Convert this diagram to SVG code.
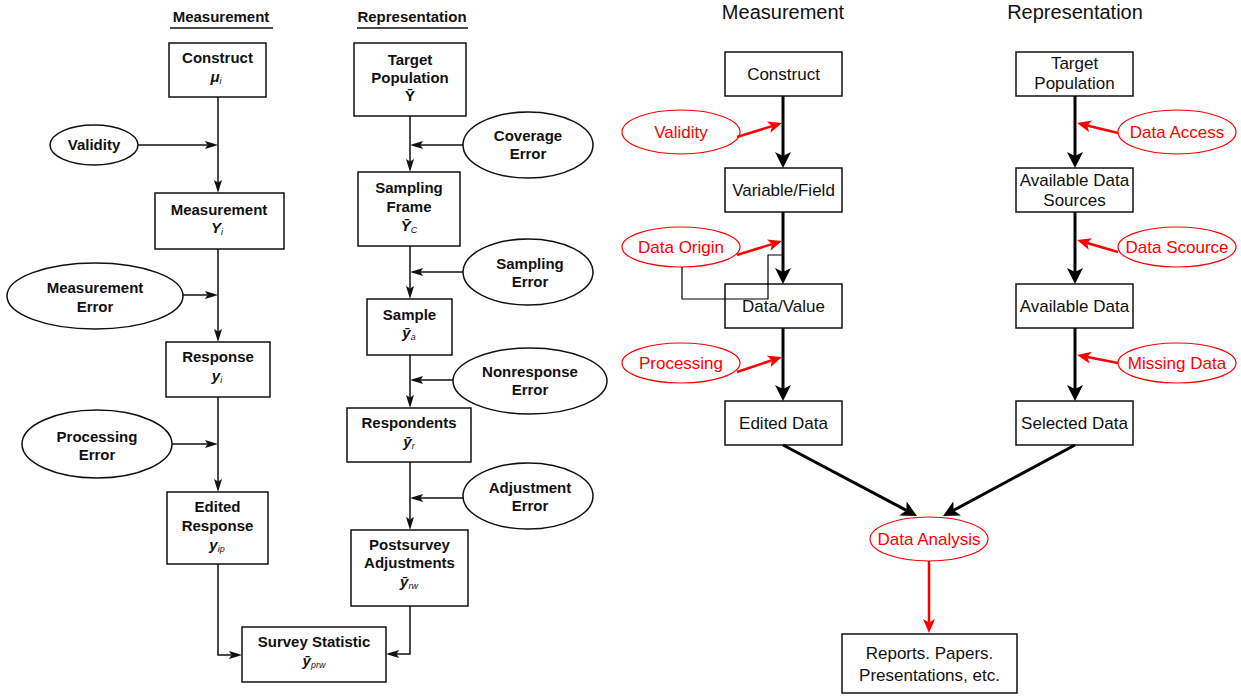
<svg xmlns="http://www.w3.org/2000/svg" width="1241" height="697" viewBox="0 0 1241 697">
<style>
.lt{font-family:"Liberation Sans",Arial,Helvetica,sans-serif;font-weight:bold;font-size:15px;fill:#111;text-anchor:middle}
.sub{font-size:9px;font-weight:normal;font-style:italic}
.mi{font-style:italic}
.lbox{fill:#fff;stroke:#111;stroke-width:1.5}
.lell{fill:#fff;stroke:#111;stroke-width:1.5}
.lline{fill:none;stroke:#111;stroke-width:1.5}
.rt{font-family:"Liberation Sans",Arial,Helvetica,sans-serif;font-size:17px;fill:#111;text-anchor:middle}
.rh{font-family:"Liberation Sans",Arial,Helvetica,sans-serif;font-size:20px;fill:#111;text-anchor:middle}
.red{fill:#ff0000}
.rbox{fill:#fff;stroke:#111;stroke-width:1.5}
.rell{fill:#fff;stroke:#ff0000;stroke-width:1.2}
.thick{fill:none;stroke:#000;stroke-width:3}
.redl{fill:none;stroke:#ff0000;stroke-width:2.5}
.thin{fill:none;stroke:#000;stroke-width:1.2}
</style>
<defs>
<marker id="la" viewBox="0 0 13 8" refX="2.5" refY="4" markerWidth="13" markerHeight="8" markerUnits="userSpaceOnUse" orient="auto">
<path d="M0,0 L13,4 L0,8 L2.5,4 z" fill="#111"/>
</marker>
<marker id="ba" viewBox="0 0 16 16" refX="4" refY="8" markerWidth="16" markerHeight="16" markerUnits="userSpaceOnUse" orient="auto">
<path d="M0,0 L16,8 L0,16 L4,8 z" fill="#000"/>
</marker>
<marker id="ra" viewBox="0 0 14 12" refX="3.5" refY="6" markerWidth="14" markerHeight="12" markerUnits="userSpaceOnUse" orient="auto">
<path d="M0,0 L14,6 L0,12 L3.5,6 z" fill="#ff0000"/>
</marker>
</defs>
<rect width="1241" height="697" fill="#fff"/>

<!-- LEFT DIAGRAM -->
<g id="left-headers">
<text class="lt" x="221" y="22">Measurement</text>
<line x1="170" y1="28" x2="273" y2="28" stroke="#111" stroke-width="1.5"/>
<text class="lt" x="412" y="22">Representation</text>
<line x1="357" y1="28" x2="468" y2="28" stroke="#111" stroke-width="1.5"/>
</g>

<g id="L-construct"><rect class="lbox" x="169" y="43" width="97" height="54"/>
<text class="lt" x="217.5" y="63">Construct</text>
<text class="lt" x="216" y="82"><tspan class="mi">μ</tspan><tspan class="sub" dy="2">i</tspan></text></g>

<g id="L-validity"><ellipse class="lell" cx="94" cy="145" rx="44" ry="20"/>
<text class="lt" x="94" y="150">Validity</text></g>

<g id="L-measurement"><rect class="lbox" x="155" y="193" width="129" height="56"/>
<text class="lt" x="219" y="215">Measurement</text>
<text class="lt" x="217" y="233"><tspan class="mi">Y</tspan><tspan class="sub" dy="2">i</tspan></text></g>

<g id="L-measurement-error"><ellipse class="lell" cx="95" cy="296" rx="88" ry="33"/>
<text class="lt" x="95" y="293">Measurement</text>
<text class="lt" x="95" y="312">Error</text></g>

<g id="L-response"><rect class="lbox" x="166" y="342" width="104" height="55"/>
<text class="lt" x="218" y="362">Response</text>
<text class="lt" x="217" y="381"><tspan class="mi">y</tspan><tspan class="sub" dy="2">i</tspan></text></g>

<g id="L-processing-error"><ellipse class="lell" cx="97" cy="444" rx="75" ry="34"/>
<text class="lt" x="97" y="442">Processing</text>
<text class="lt" x="97" y="460">Error</text></g>

<g id="L-edited-response"><rect class="lbox" x="167" y="492" width="101" height="72"/>
<text class="lt" x="217.5" y="512">Edited</text>
<text class="lt" x="217.5" y="531">Response</text>
<text class="lt" x="217" y="550"><tspan class="mi">y</tspan><tspan class="sub" dy="2">ip</tspan></text></g>

<g id="L-survey-statistic"><rect class="lbox" x="242" y="627" width="144" height="55"/>
<text class="lt" x="314" y="647">Survey Statistic</text>
<text class="lt" x="314" y="666"><tspan class="mi">ȳ</tspan><tspan class="sub" dy="2">prw</tspan></text></g>

<g id="L-target-population"><rect class="lbox" x="354" y="43" width="112" height="73"/>
<text class="lt" x="410" y="65">Target</text>
<text class="lt" x="410" y="83">Population</text>
<text class="lt" x="410" y="101">Ȳ</text></g>

<g id="L-coverage-error"><ellipse class="lell" cx="528" cy="145" rx="65" ry="33"/>
<text class="lt" x="528" y="141">Coverage</text>
<text class="lt" x="528" y="159">Error</text></g>

<g id="L-sampling-frame"><rect class="lbox" x="358" y="172" width="102" height="74"/>
<text class="lt" x="409" y="193">Sampling</text>
<text class="lt" x="409" y="212">Frame</text>
<text class="lt" x="409" y="231"><tspan class="mi">Ȳ</tspan><tspan class="sub" dy="2">C</tspan></text></g>

<g id="L-sampling-error"><ellipse class="lell" cx="528" cy="272" rx="65" ry="33"/>
<text class="lt" x="530" y="269">Sampling</text>
<text class="lt" x="530" y="287">Error</text></g>

<g id="L-sample"><rect class="lbox" x="367" y="299" width="85" height="56"/>
<text class="lt" x="409.5" y="320">Sample</text>
<text class="lt" x="409" y="338"><tspan class="mi">ȳ</tspan><tspan class="sub" dy="2">a</tspan></text></g>

<g id="L-nonresponse-error"><ellipse class="lell" cx="530" cy="381" rx="77" ry="33"/>
<text class="lt" x="530" y="377">Nonresponse</text>
<text class="lt" x="530" y="395">Error</text></g>

<g id="L-respondents"><rect class="lbox" x="347" y="408" width="124" height="54"/>
<text class="lt" x="409" y="428">Respondents</text>
<text class="lt" x="409" y="447"><tspan class="mi">ȳ</tspan><tspan class="sub" dy="2">r</tspan></text></g>

<g id="L-adjustment-error"><ellipse class="lell" cx="528" cy="496" rx="65" ry="33"/>
<text class="lt" x="530" y="493">Adjustment</text>
<text class="lt" x="530" y="511">Error</text></g>

<g id="L-postsurvey"><rect class="lbox" x="351" y="530" width="117" height="76"/>
<text class="lt" x="409.5" y="550">Postsurvey</text>
<text class="lt" x="409.5" y="568">Adjustments</text>
<text class="lt" x="409" y="587"><tspan class="mi">ȳ</tspan><tspan class="sub" dy="2">rw</tspan></text></g>

<!-- RIGHT DIAGRAM -->
<g id="right-headers">
<text class="rh" x="783" y="19">Measurement</text>
<text class="rh" x="1075" y="19">Representation</text>
</g>

<g id="R-construct"><rect class="rbox" x="725" y="52" width="117" height="44"/>
<text class="rt" x="783.5" y="80">Construct</text></g>
<g id="R-variable"><rect class="rbox" x="725" y="168" width="117" height="44"/>
<text class="rt" x="783.5" y="196">Variable/Field</text></g>
<g id="R-datavalue"><rect class="rbox" x="725" y="284" width="117" height="44"/>
<text class="rt" x="783.5" y="312">Data/Value</text></g>
<g id="R-edited"><rect class="rbox" x="725" y="401" width="117" height="44"/>
<text class="rt" x="783.5" y="429">Edited Data</text></g>

<g id="R-target"><rect class="rbox" x="1016" y="52" width="117" height="44"/>
<text class="rt" x="1074.5" y="69">Target</text>
<text class="rt" x="1074.5" y="89">Population</text></g>
<g id="R-sources"><rect class="rbox" x="1016" y="168" width="117" height="44"/>
<text class="rt" x="1074.5" y="186">Available Data</text>
<text class="rt" x="1074.5" y="206">Sources</text></g>
<g id="R-available"><rect class="rbox" x="1016" y="284" width="117" height="44"/>
<text class="rt" x="1074.5" y="312">Available Data</text></g>
<g id="R-selected"><rect class="rbox" x="1016" y="401" width="117" height="44"/>
<text class="rt" x="1074.5" y="429">Selected Data</text></g>

<g id="R-validity"><ellipse class="rell" cx="681" cy="132" rx="59" ry="22"/>
<text class="rt red" x="681" y="138">Validity</text></g>
<g id="R-origin"><ellipse class="rell" cx="681" cy="247" rx="59" ry="20"/>
<text class="rt red" x="681" y="253">Data Origin</text></g>
<g id="R-processing"><ellipse class="rell" cx="681" cy="363" rx="59" ry="20"/>
<text class="rt red" x="681" y="369">Processing</text></g>
<g id="R-access"><ellipse class="rell" cx="1177" cy="132" rx="59" ry="22"/>
<text class="rt red" x="1177" y="138">Data Access</text></g>
<g id="R-scource"><ellipse class="rell" cx="1177" cy="247" rx="59" ry="20"/>
<text class="rt red" x="1177" y="253">Data Scource</text></g>
<g id="R-missing"><ellipse class="rell" cx="1177" cy="363" rx="59" ry="20"/>
<text class="rt red" x="1177" y="369">Missing Data</text></g>
<g id="R-analysis"><ellipse class="rell" cx="929" cy="539" rx="59" ry="22"/>
<text class="rt red" x="929" y="545">Data Analysis</text></g>
<g id="R-reports"><rect class="rbox" x="842" y="634" width="175" height="59"/>
<text class="rt" x="929.5" y="659">Reports. Papers.</text>
<text class="rt" x="929.5" y="681">Presentations, etc.</text></g>

<g id="connectors">
<!-- left measurement -->
<path class="lline" d="M138,145 H207.5" marker-end="url(#la)"/>
<path class="lline" d="M218,97 V182.5" marker-end="url(#la)"/>
<path class="lline" d="M183,295 H207.5" marker-end="url(#la)"/>
<path class="lline" d="M218,249 V331.5" marker-end="url(#la)"/>
<path class="lline" d="M172,444 H207.5" marker-end="url(#la)"/>
<path class="lline" d="M218,397 V481.5" marker-end="url(#la)"/>
<path class="lline" d="M218,564 V655 H231.5" marker-end="url(#la)"/>
<!-- left representation -->
<path class="lline" d="M410,116 V161.5" marker-end="url(#la)"/>
<path class="lline" d="M463,145 H420.5" marker-end="url(#la)"/>
<path class="lline" d="M410,246 V288.5" marker-end="url(#la)"/>
<path class="lline" d="M463,272 H420.5" marker-end="url(#la)"/>
<path class="lline" d="M410,355 V397.5" marker-end="url(#la)"/>
<path class="lline" d="M453,380 H420.5" marker-end="url(#la)"/>
<path class="lline" d="M410,462 V519.5" marker-end="url(#la)"/>
<path class="lline" d="M463,498 H420.5" marker-end="url(#la)"/>
<path class="lline" d="M410,606 V654 H396.5" marker-end="url(#la)"/>
<!-- right thick -->
<path class="thick" d="M783,96 V156" marker-end="url(#ba)"/>
<path class="thick" d="M783,212 V272" marker-end="url(#ba)"/>
<path class="thick" d="M783,328 V389" marker-end="url(#ba)"/>
<path class="thick" d="M1075,96 V156" marker-end="url(#ba)"/>
<path class="thick" d="M1075,212 V272" marker-end="url(#ba)"/>
<path class="thick" d="M1075,328 V389" marker-end="url(#ba)"/>
<path class="thick" d="M783,445 L906.4,510.4" marker-end="url(#ba)"/>
<path class="thick" d="M1075,445 L953.6,510.3" marker-end="url(#ba)"/>
<!-- thin black -->
<path class="thin" d="M682,267 V299 H768 V255 H783"/>
<!-- red -->
<path class="redl" d="M737,137 L772,126.1" marker-end="url(#ra)"/>
<path class="redl" d="M737,255 L772,244.1" marker-end="url(#ra)"/>
<path class="redl" d="M737,372 L772,360.3" marker-end="url(#ra)"/>
<path class="redl" d="M1118,133 L1087.2,125.5" marker-end="url(#ra)"/>
<path class="redl" d="M1118,252 L1087.1,243" marker-end="url(#ra)"/>
<path class="redl" d="M1118,363 L1087.3,357" marker-end="url(#ra)"/>
<path class="redl" d="M929,561 V622.5" marker-end="url(#ra)"/>
</g>
</svg>
